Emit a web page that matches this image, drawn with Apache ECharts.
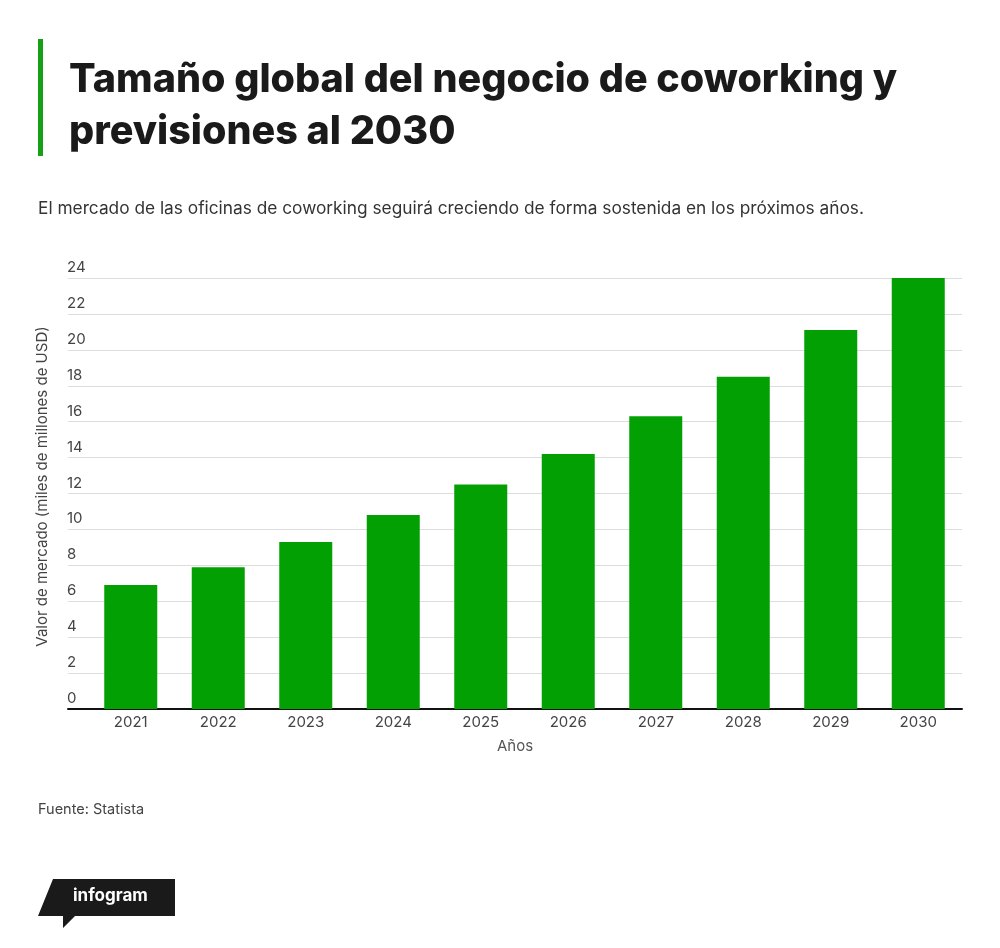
<!DOCTYPE html>
<html>
<head>
<meta charset="utf-8">
<script src="https://cdn.jsdelivr.net/npm/echarts@6/dist/echarts.min.js"></script>
<style>
html,body{margin:0;padding:0;background:#fff;}
#c{width:1000px;height:948px;}
</style>
</head>
<body>
<div id="c"></div>
<script>
const categories = ['2021','2022','2023','2024','2025','2026','2027','2028','2029','2030'];
const values = [6.9, 7.9, 9.3, 10.8, 12.5, 14.2, 16.3, 18.5, 21.1, 24.0];
const yTicks = [0, 2, 4, 6, 8, 10, 12, 14, 16, 18, 20, 22, 24];

const titleText = 'Tamaño global del negocio de coworking y\nprevisiones al 2030';
const subtitleText = 'El mercado de las oficinas de coworking seguirá creciendo de forma sostenida en los próximos años.';
const sourceText = 'Fuente: Statista';
const yName = 'Valor de mercado (miles de millones de USD)';
const xName = 'Años';

const FONT = 'Inter, "Liberation Sans", Arial, sans-serif';
const chart = echarts.init(document.getElementById('c'));
const yMin = yTicks[0], yMax = yTicks[yTicks.length - 1], yStep = yTicks[1] - yTicks[0];

chart.setOption({
  backgroundColor: '#ffffff',
  animation: false,
  textStyle: { fontFamily: FONT },
  graphic: [
    { type: 'rect', shape: { x: 38, y: 39, width: 5, height: 117 }, style: { fill: '#16a016' } },
    { type: 'text', left: 69, top: 54, style: { text: titleText, font: '800 39.5px ' + FONT, fill: '#1a1a1a', lineHeight: 52 } },
    { type: 'text', left: 38, top: 200, style: { text: subtitleText, font: '17.3px ' + FONT, fill: '#333333' } },
    { type: 'text', left: 38, top: 802, style: { text: sourceText, font: '14.5px ' + FONT, fill: '#444444' } },
    { type: 'polygon', shape: { points: [[53, 879], [175, 879], [175, 916], [75, 916], [63, 928], [63, 916], [38, 916]] }, style: { fill: '#1a1a1a' } },
    { type: 'text', left: 73, top: 887, style: { text: 'infogram', font: 'bold 17px ' + FONT, fill: '#ffffff' } }
  ],
  grid: [
    { left: 68, right: 38, top: 278, bottom: 239 },
    { left: 87, right: 38, top: 278, bottom: 239 }
  ],
  xAxis: [
    {
      type: 'category', gridIndex: 0, data: categories,
      axisLine: { show: true, lineStyle: { color: '#111', width: 2 } },
      axisTick: { show: false }, axisLabel: { show: false },
      name: xName, nameLocation: 'middle', nameGap: 30,
      nameTextStyle: { fontSize: 15, color: '#555', fontFamily: FONT }
    },
    {
      type: 'category', gridIndex: 1, data: categories,
      axisLine: { show: false }, axisTick: { show: false },
      axisLabel: { fontSize: 15, color: '#444', margin: 6, fontFamily: FONT }
    }
  ],
  yAxis: [
    {
      type: 'value', gridIndex: 0, min: yMin, max: yMax, interval: yStep,
      axisLine: { show: false }, axisTick: { show: false },
      splitLine: { show: true, lineStyle: { color: '#dddddd', width: 1 } },
      axisLabel: { align: 'left', verticalAlign: 'bottom', margin: 1, padding: [0, 0, 3, 0], fontSize: 15, color: '#444', fontFamily: FONT },
      name: yName, nameLocation: 'middle', nameGap: 18, nameRotate: 90,
      nameTextStyle: { fontSize: 15, color: '#444', fontFamily: FONT, padding: [0, 0, 0, 14] }
    },
    {
      type: 'value', gridIndex: 1, min: yMin, max: yMax, interval: yStep,
      show: false, splitLine: { show: false }
    }
  ],
  series: [
    {
      type: 'bar', xAxisIndex: 1, yAxisIndex: 1, data: values,
      barWidth: 53, itemStyle: { color: '#02a002' }
    }
  ]
});
</script>
</body>
</html>
